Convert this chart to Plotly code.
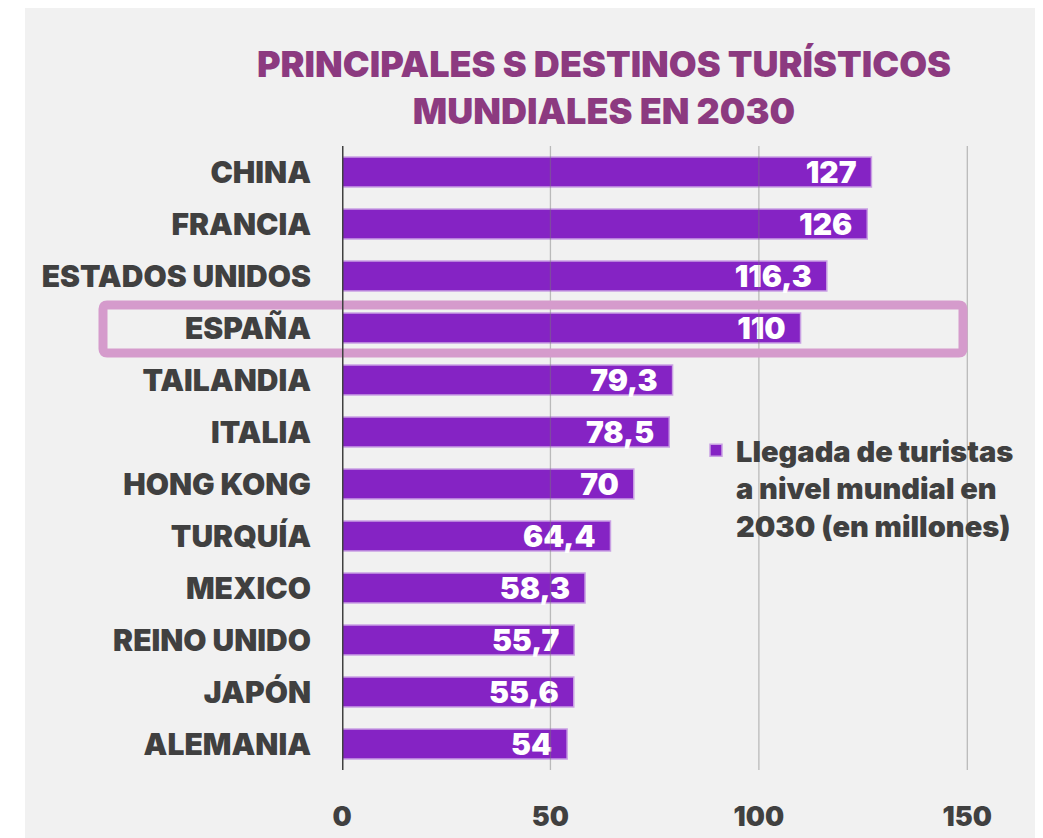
import plotly.graph_objects as go

countries = ["CHINA", "FRANCIA", "ESTADOS UNIDOS", "ESPAÑA", "TAILANDIA", "ITALIA",
             "HONG KONG", "TURQUÍA", "MEXICO", "REINO UNIDO", "JAPÓN", "ALEMANIA"]
arrivals = [127, 126, 116.3, 110, 79.3, 78.5, 70, 64.4, 58.3, 55.7, 55.6, 54]
x_ticks = [0, 50, 100, 150]
highlight = "ESPAÑA"

OFF = 8  # page body margin
W, H = 1043 - OFF, 838 - OFF
L, T = 342 - OFF, 146 - OFF
XMAX = 160
R = 34
B = H - (770 - OFF)
pw, ph = W - L - R, H - T - B

def px_x(p):  # window px -> plot-domain paper
    return (p - OFF - L) / pw

def px_y(p):
    return 1 - (p - OFF - T) / ph

labels = [(f"{v:g}").replace(".", ",") + "\u00a0\u00a0" for v in arrivals]
dark = "#404040"
font_fam = "Inter, Roboto, Arial, sans-serif"

fig = go.Figure()
fig.add_trace(go.Bar(
    y=countries, x=arrivals, orientation="h",
    name="Llegada de turistas<br>a nivel mundial en<br>2030 (en millones)",
    marker=dict(color="#8523c4", line=dict(color="#c9a0e3", width=1.5)),
    text=labels, textposition="inside", insidetextanchor="end",
    constraintext="none",
    textfont=dict(color="white", size=30, family=font_fam, weight=900),
    hoverinfo="x+y",
))

shapes = []
# grey background card (white strip on top/left)
shapes.append(dict(type="rect", xref="paper", yref="paper",
                   x0=px_x(25), x1=px_x(1060), y0=px_y(860), y1=px_y(6),
                   fillcolor="#f1f1f1", line=dict(width=0), layer="below"))
# gridlines above bars
for v in x_ticks[1:]:
    shapes.append(dict(type="line", xref="x", yref="paper", x0=v, x1=v, y0=0, y1=1,
                       line=dict(color="rgba(120,120,120,0.45)", width=1.3), layer="above"))
# highlight rectangle around España (rounded)
idx = countries.index(highlight)
row_px = 146 + (idx + 0.5) * ph / len(countries)
x0p, x1p = px_x(103), px_x(963)
y0p, y1p = px_y(row_px + 25), px_y(row_px - 23)
rx = 4 / pw
ry = 4 / ph
path = (f"M {x0p+rx},{y1p} L {x1p-rx},{y1p} Q {x1p},{y1p} {x1p},{y1p-ry} "
        f"L {x1p},{y0p+ry} Q {x1p},{y0p} {x1p-rx},{y0p} L {x0p+rx},{y0p} "
        f"Q {x0p},{y0p} {x0p},{y0p+ry} L {x0p},{y1p-ry} Q {x0p},{y1p} {x0p+rx},{y1p} Z")
shapes.append(dict(type="path", xref="paper", yref="paper", path=path,
                   line=dict(color="#d59bcc", width=9), layer="above"))
# zero axis line on top
shapes.append(dict(type="line", xref="x", yref="paper", x0=0, x1=0, y0=0, y1=1,
                   line=dict(color=dark, width=3), layer="above"))

fig.update_layout(
    width=W, height=H,
    margin=dict(l=L, r=R, t=T, b=B, autoexpand=False),
    paper_bgcolor="white", plot_bgcolor="rgba(0,0,0,0)",
    bargap=0.42,
    title=dict(text="PRINCIPALES S DESTINOS TURÍSTICOS<br>MUNDIALES EN 2030",
               x=(604 - OFF) / W, xanchor="center", xref="container",
               y=1 - 69 / H, yanchor="top", yref="container",
               font=dict(family=font_fam, size=36, color="#8c3a80", weight=900)),
    xaxis=dict(range=[0, XMAX], tickvals=x_ticks, ticktext=[str(t) for t in x_ticks],
               showgrid=False, zeroline=False, showline=False, ticks="",
               ticklabelstandoff=28, automargin=False,
               tickfont=dict(family=font_fam, size=27, color=dark, weight=900)),
    yaxis=dict(autorange="reversed", showgrid=False, zeroline=False, showline=False,
               ticks="", ticklabelstandoff=30, automargin=False,
               tickfont=dict(family=font_fam, size=30, color=dark, weight=900)),
    showlegend=True,
    legend=dict(x=px_x(696), y=px_y(425), xanchor="left", yanchor="top",
                bgcolor="rgba(0,0,0,0)", valign="top",
                font=dict(family=font_fam, size=29, color=dark, weight=900)),
    shapes=shapes,
)

fig.write_html("out.html")
